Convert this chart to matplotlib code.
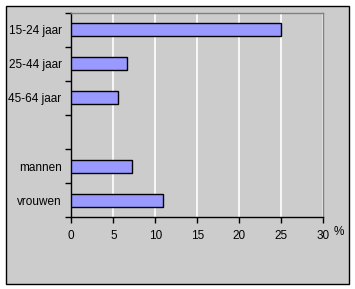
import matplotlib
matplotlib.use('Agg')
import matplotlib.pyplot as plt
from matplotlib.patches import Rectangle

# data
categories = ['15-24 jaar', '25-44 jaar', '45-64 jaar', '', 'mannen', 'vrouwen']
values = [25.0, 6.6, 5.6, None, 7.2, 10.9]
xticks = [0, 5, 10, 15, 20, 25, 30]

plt.rcParams['font.family'] = ['Liberation Sans', 'DejaVu Sans']
grey = '#cccccc'
fig = plt.figure(figsize=(3.55, 2.89), dpi=100)
fig.patch.set_facecolor('white')
# chart area border
fig.patches.append(Rectangle((6/355, 1-284/289), 343/355, 278/289, transform=fig.transFigure,
                             facecolor=grey, edgecolor='black', linewidth=1, zorder=-10))

ax = fig.add_axes([71.3/355, 1-217.3/289, 252/355, 204.6/289])
ax.set_facecolor(grey)

ypos = list(range(len(categories)))
for y, v in zip(ypos, values):
    if v is None:
        continue
    ax.barh(y, v, height=0.38, color='#9999ff', edgecolor='black', linewidth=1, zorder=3)

ax.set_xlim(0, 30)
ax.set_ylim(len(categories) - 0.5, -0.5)
ax.set_xticks(xticks)
ax.set_xticklabels([str(t) for t in xticks], fontsize=8.5)
ax.set_yticks(ypos)
ax.set_yticklabels(categories, fontsize=8.5)
ax.tick_params(axis='y', which='major', length=0, pad=7)
ax.set_yticks([i - 0.5 for i in range(len(categories) + 1)], minor=True)
ax.tick_params(axis='y', which='minor', length=4, width=1, color='black')
ax.tick_params(axis='x', length=4, width=1, pad=5)

ax.xaxis.grid(True, color='white', linewidth=1.2)
ax.set_axisbelow(True)
for s in ['left', 'bottom']:
    ax.spines[s].set_color('black')
    ax.spines[s].set_linewidth(1)
for s in ['top', 'right']:
    ax.spines[s].set_color('#808080')
    ax.spines[s].set_linewidth(1)

fig.text(339/355, 1-232/289, '%', fontsize=8.5, ha='center', va='center')

fig.savefig('out.png', dpi=100)
